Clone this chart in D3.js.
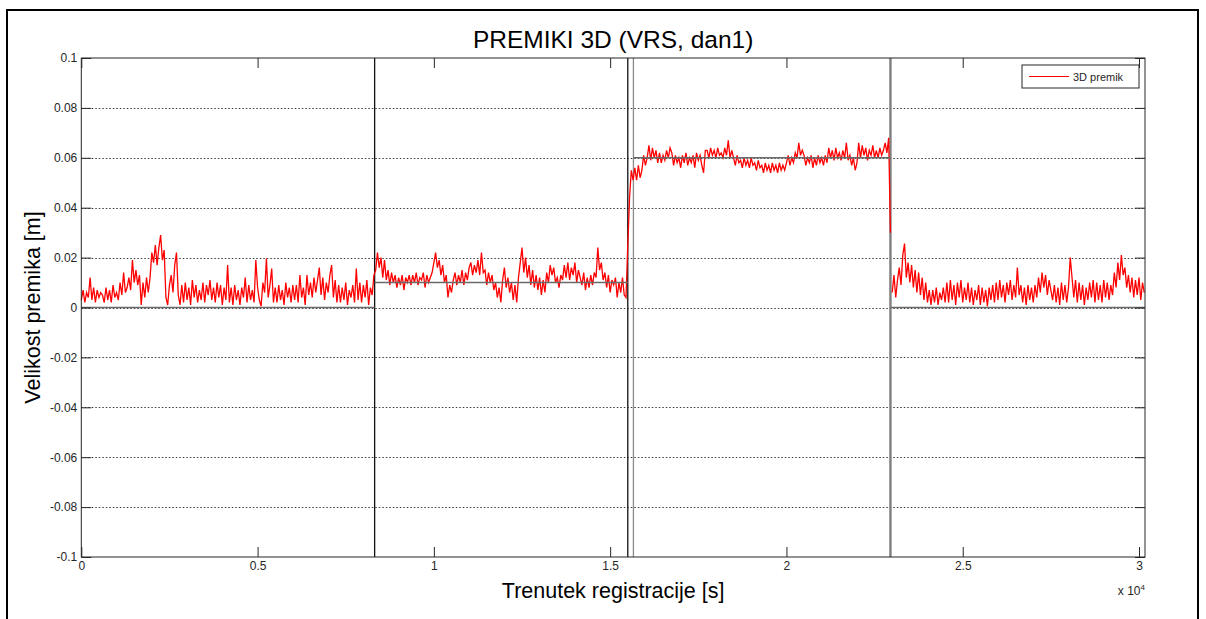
<!DOCTYPE html>
<html>
<head>
<meta charset="utf-8">
<script src="https://cdn.jsdelivr.net/npm/d3@7/dist/d3.min.js"></script>
<style>
  html, body { margin: 0; padding: 0; background: #fff; }
  svg { display: block; font-family: "Liberation Sans", Arial, Helvetica, sans-serif; }
</style>
</head>
<body>
<svg id="chart" width="1206" height="619"></svg>
<script>
// 3D displacement magnitude [mm], one sample every 50 s, per observation block
const sampleStep = 50;
const block1Start = 0;
const block1 = [3,7,2,6,4,12,3,8,2,7,4,6,
  5,2,8,3,7,2,9,4,
  6,3,10,5,14,6,
  8,12,7,19,
  10,15,9,13,
  1,10,4,12,6,
  12,22,18,25,17,24,29,19,23,4,1,9,13,6,17,22,5,1,
  9,2,10,3,8,1,11,4,9,2,7,3,10,2,9,5,11,3,8,2,10,4,9,1,8,3,
  17,2,8,1,9,3,7,1,8,4,12,2,9,3,7,2,
  19,8,3,0.5,10,6,19.6,4,9,15.6,2,
  8,2,9,3,7,1,10,4,8,2,9,
  3,9,2,13,4,8,1,13,5,
  10,4,12,6,11,16,5,12,3,10,6,13,17,4,11,2,
  9,2,8,3,10,1,7,4,9,2,15.6,
  3,10,2,9,4,11,1,8,5,13];
const block2Start = 8350;
const block2 = [15,22,16,
  20,12,19,11,
  15,9,14,10,13,
  8,12,9,13,7,12,10,13,
  9,13,10,14,9,12,11,14,8,13,10,12,
  14,18,22,16,19,13,17,
  10,13,4,9,6,11,
  14,9,13,10,15,9,14,11,16,
  18,13,17,14,19,13,22,14,
  15,9,14,10,13,
  7,10,4,8,2,
  11,16,8,12,6,10,
  3,9,2,12,
  18,24,14,20,12,17,
  9,15,8,13,7,12,
  5,11,6,14,10,17,
  13,16,10,12,8,
  13,11,17,12,18,11,16,13,18,10,15,12,
  9,14,7,12,8,13,9,14,
  12,24,15,18,11,
  14,8,13,6,11,9,12,
  4,10,6,12,5,4];
const block3Start = 15500;
const block3 = [25,44,55,51,
  56,51,57,52,55,
  61,57,60,
  65,59,64,60,63,58,
  62,58,61,59,63,60,64,
  62,57,61,58,60,56,61,58,62,57,60,58,61,56,62,59,61,57,
  54,63,
  63,60,64,61,63,60,64,61,62,60,64,61,67,60,63,
  60,57,61,58,59,56,60,57,59,56,60,57,58,55,59,56,
  57,54,58,55,57,54,58,55,57,54,58,55,57,55,58,
  61,57,60,58,
  62,60,66,61,63,
  61,57,60,58,61,56,60,57,61,58,60,57,61,58,
  64,60,63,59,64,60,62,59,63,60,66,59,61,
  57,60,55,58,
  66,60,65,61,64,59,63,61,65,60,
  63,60,64,61,63,
  66,62,68,30];
const block4Start = 23000;
const block4 = [6,13,4,11,
  16,9,21,25.6,
  12,18,10,17,
  8,15,6,14,5,12,
  3,10,2,7,
  1,7,2,8,1,6,3,8,2,
  10,2,11,3,9,1,10,4,11,2,8,3,10,
  2,8,1,7,3,9,1,8,2,7,0.5,8,3,9,2,
  10,3,11,4,9,2,10,5,11,3,9,4,
  16,
  5,9,2,8,1,9,3,8,2,9,4,
  12,6,14,8,13,5,11,7,
  3,9,2,8,1,10,3,9,2,8,
  20,
  12,4,11,2,10,3,9,1,8,3,10,
  4,11,2,10,3,9,2,11,4,10,3,9,5,
  14,8,18,11,21,13,
  16,8,13,6,12,4,11,5,12,3,10,6];

// nominal displacement of each block [m] and its time span [s]
const levelFrom = [0, 8320, 15660, 22950];
const levelTo = [8320, 15500, 22950, 30170];
const levelValue = [0, 0.01, 0.06, 0];

// block boundaries [s]
const splitTimes = [8320, 15500, 15660, 22950];
const splitKinds = ["dark", "dark", "light", "heavy"];

// axes
const xDomain = [0, 30170];
const yDomain = [-0.1, 0.1];
const xTicks = [0, 5000, 10000, 15000, 20000, 25000, 30000];
const xTickLabels = ["0", "0.5", "1", "1.5", "2", "2.5", "3"];
const yTicks = [-0.1, -0.08, -0.06, -0.04, -0.02, 0, 0.02, 0.04, 0.06, 0.08, 0.1];
const yTickLabels = ["-0.1", "-0.08", "-0.06", "-0.04", "-0.02", "0", "0.02", "0.04", "0.06", "0.08", "0.1"];

const titleText = "PREMIKI 3D (VRS, dan1)";
const xLabelText = "Trenutek registracije [s]";
const yLabelText = "Velikost premika [m]";
const legendText = "3D premik";

// ---------------------------------------------------------------
const svg = d3.select("#chart");
const W = 1206, H = 619;
const plot = { left: 81.3, top: 58, right: 1145, bottom: 557 };

const x = d3.scaleLinear().domain(xDomain).range([plot.left, plot.right]);
const y = d3.scaleLinear().domain(yDomain).range([plot.bottom, plot.top]);

// figure frame
svg.append("rect").attr("x", 0).attr("y", 0).attr("width", W).attr("height", H).attr("fill", "#fff");
svg.append("rect")
  .attr("x", 7).attr("y", 10).attr("width", 1191).attr("height", 640)
  .attr("fill", "none").attr("stroke", "#000").attr("stroke-width", 2);

// horizontal dotted grid
svg.append("g").selectAll("line")
  .data(yTicks.slice(1, -1))
  .join("line")
  .attr("x1", plot.left).attr("x2", plot.right)
  .attr("y1", d => Math.round(y(d)) + 0.5).attr("y2", d => Math.round(y(d)) + 0.5)
  .attr("stroke", "#3a3a3a").attr("stroke-width", 1)
  .attr("stroke-dasharray", "1.5,2");

// block boundaries
const splitStyle = {
  dark: { stroke: "#111", width: 1.3 },
  light: { stroke: "#8a8a8a", width: 1.3 },
  heavy: { stroke: "#7f7f7f", width: 2.4 }
};
svg.append("g").selectAll("line")
  .data(splitTimes.map((t, i) => ({ t, kind: splitKinds[i] })))
  .join("line")
  .attr("x1", d => x(d.t)).attr("x2", d => x(d.t))
  .attr("y1", plot.top).attr("y2", plot.bottom)
  .attr("stroke", d => splitStyle[d.kind].stroke)
  .attr("stroke-width", d => splitStyle[d.kind].width);

// displacement series
const toPoints = (start, vals) => vals.map((v, i) => ({ t: start + i * sampleStep, v: v / 1000 }));
const runs = [
  toPoints(block1Start, block1).concat(toPoints(block2Start, block2), toPoints(block3Start, block3)),
  toPoints(block4Start, block4)
];
const line = d3.line().x(d => x(d.t)).y(d => y(d.v));
svg.append("g").selectAll("path")
  .data(runs)
  .join("path")
  .attr("d", line)
  .attr("fill", "none")
  .attr("stroke", "#ff0000")
  .attr("stroke-width", 1.3)
  .attr("stroke-linejoin", "miter");

// nominal levels
svg.append("g").selectAll("line")
  .data(levelValue.map((v, i) => ({ v, a: levelFrom[i], b: levelTo[i] })))
  .join("line")
  .attr("x1", d => x(d.a)).attr("x2", d => x(d.b))
  .attr("y1", d => y(d.v)).attr("y2", d => y(d.v))
  .attr("stroke", "#6a6a6a").attr("stroke-width", 1.5);

// axes box with inward ticks on all four sides
const axisColor = "#262626";
const tickLen = 10;
const tickFont = 12;
const axisG = svg.append("g");

const xAxisBottom = d3.axisBottom(x).tickValues(xTicks).tickSize(-tickLen).tickFormat((d, i) => xTickLabels[i]).tickPadding(4);
const xAxisTop = d3.axisTop(x).tickValues(xTicks).tickSize(-tickLen).tickFormat("");
const yAxisLeft = d3.axisLeft(y).tickValues(yTicks).tickSize(-tickLen).tickFormat((d, i) => yTickLabels[i]).tickPadding(4);
const yAxisRight = d3.axisRight(y).tickValues(yTicks).tickSize(-tickLen).tickFormat("");

function styleAxis(g) {
  g.select(".domain").remove();
  g.selectAll(".tick line").attr("stroke", axisColor);
  g.selectAll(".tick text").attr("fill", axisColor)
    .attr("font-family", "'Liberation Sans', Arial, sans-serif").attr("font-size", tickFont);
}
axisG.append("g").attr("transform", `translate(0,${plot.bottom})`).call(xAxisBottom).call(styleAxis);
axisG.append("g").attr("transform", `translate(0,${plot.top})`).call(xAxisTop).call(styleAxis);
axisG.append("g").attr("transform", `translate(${plot.left},0)`).call(yAxisLeft).call(styleAxis);
axisG.append("g").attr("transform", `translate(${plot.right},0)`).call(yAxisRight).call(styleAxis);

svg.append("rect")
  .attr("x", plot.left).attr("y", plot.top)
  .attr("width", plot.right - plot.left).attr("height", plot.bottom - plot.top)
  .attr("fill", "none").attr("stroke", axisColor).attr("stroke-width", 1);

// exponent note under the x axis
const expo = svg.append("text")
  .attr("x", plot.right).attr("y", 595)
  .attr("text-anchor", "end").attr("font-size", tickFont).attr("fill", axisColor);
expo.append("tspan").text("x 10");
expo.append("tspan").attr("dy", -5).attr("font-size", 8).text("4");

// titles
svg.append("text")
  .attr("x", (plot.left + plot.right) / 2).attr("y", 48)
  .attr("text-anchor", "middle").attr("font-size", 24.5).attr("fill", "#000")
  .text(titleText);
svg.append("text")
  .attr("x", (plot.left + plot.right) / 2).attr("y", 598)
  .attr("text-anchor", "middle").attr("font-size", 21.5).attr("fill", "#000")
  .text(xLabelText);
svg.append("text")
  .attr("transform", `translate(40,${(plot.top + plot.bottom) / 2}) rotate(-90)`)
  .attr("text-anchor", "middle").attr("font-size", 21.5).attr("fill", "#000")
  .text(yLabelText);

// legend
const lg = svg.append("g").attr("transform", "translate(1022,65)");
lg.append("rect").attr("width", 117).attr("height", 23)
  .attr("fill", "#fff").attr("stroke", axisColor).attr("stroke-width", 1);
lg.append("line").attr("x1", 7).attr("x2", 47).attr("y1", 11.5).attr("y2", 11.5)
  .attr("stroke", "#ff0000").attr("stroke-width", 1);
lg.append("text").attr("x", 51).attr("y", 15.5).attr("font-size", 11).attr("fill", axisColor)
  .text(legendText);
</script>
</body>
</html>
